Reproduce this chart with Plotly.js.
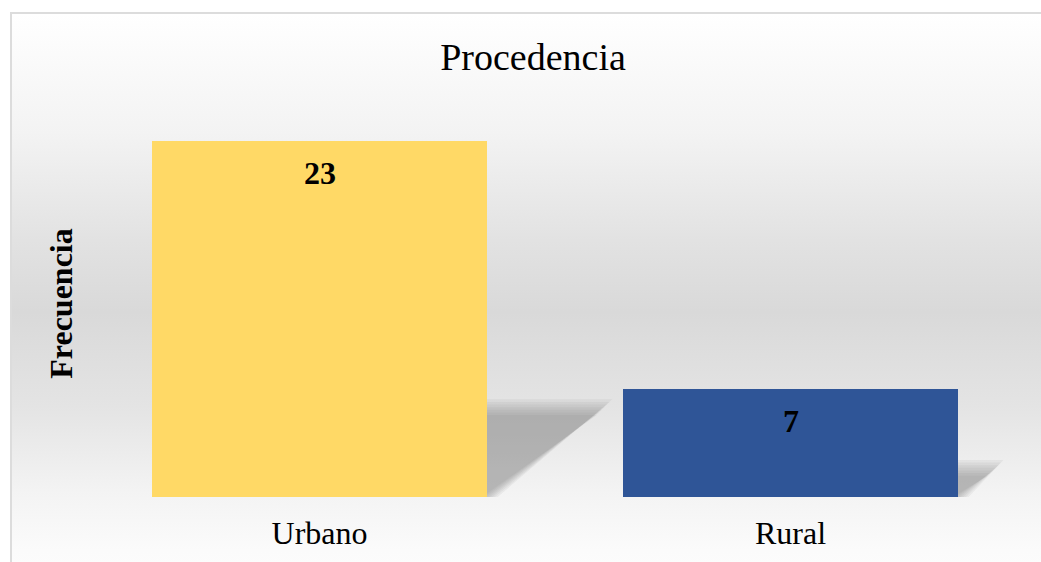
<!DOCTYPE html>
<html>
<head>
<meta charset="utf-8">
<script src="https://cdn.plot.ly/plotly-3.0.1.min.js"></script>
<style>
  html, body { margin: 0; padding: 0; width: 1041px; height: 562px; overflow: hidden; background: #ffffff; }
  #bg {
    position: absolute; left: 10px; top: 12px; width: 1100px; height: 600px;
    border: 2px solid #dcdcdc; box-sizing: border-box;
    background: linear-gradient(to bottom, #ffffff 0%, #f3f3f3 20%, #e2e2e2 38%, #d9d9d9 50%, #e4e4e4 66%, #f3f3f3 80%, #fbfbfb 90%, #ffffff 100%);
  }
  #chart { position: absolute; left: 0; top: 0; width: 1041px; height: 562px; }
</style>
</head>
<body>
<div id="bg"></div>
<div id="chart"></div>
<script>
const categories = ["Urbano", "Rural"];
const frequencies = [23, 7];
const barColors = ["#FFD966", "#2F5597"];
const chartTitle = "Procedencia";
const yTitle = "Frecuencia";

const idx = categories.map((c, i) => i);
const halfW = 0.356;

// soft perspective shadows derived from each bar's value (stacked translucent layers)
const shapes = [];
const layers = 7;
frequencies.forEach((v, i) => {
  const dx = 0.0106 * v, dy = 0.245 * v;
  for (let j = layers - 1; j >= 0; j--) {
    const ex = 0.0055 * (j - 2), ey = 0.17 * (j - 2);
    const x0 = i - halfW, x1 = i + halfW + ex;
    const top = Math.max(dy + ey, 0.05);
    shapes.push({
      type: "path", xref: "x", yref: "y", layer: "below",
      path: `M ${x0} 0 L ${x1} 0 L ${x1 + dx} ${top} L ${x0 - ex + dx} ${top} Z`,
      fillcolor: "rgba(120,120,120,0.085)", line: { width: 0 }
    });
  }
});

const annotations = frequencies.map((v, i) => ({
  x: i, y: v, xref: "x", yref: "y", text: "<b>" + v + "</b>",
  showarrow: false, yanchor: "middle", yshift: -32,
  font: { family: "Liberation Serif, Times New Roman, serif", size: 32, color: "#000000" }
}));

const trace = {
  type: "bar", x: idx, y: frequencies, width: 2 * halfW,
  marker: { color: barColors, line: { width: 0 } },
  hoverinfo: "skip"
};

const layout = {
  width: 1041, height: 562,
  paper_bgcolor: "rgba(0,0,0,0)", plot_bgcolor: "rgba(0,0,0,0)",
  margin: { l: 84, r: 15, t: 110, b: 65 },
  title: {
    text: chartTitle, x: 0.512, xanchor: "center", y: 1 - 57 / 562, yanchor: "middle", yref: "container",
    font: { family: "Liberation Serif, Times New Roman, serif", size: 38, color: "#000000" }
  },
  xaxis: {
    range: [-0.5, 1.5], tickvals: idx, ticktext: categories, showgrid: false, zeroline: false,
    showline: false, ticks: "", ticklabelstandoff: 14,
    tickfont: { family: "Liberation Serif, Times New Roman, serif", size: 32, color: "#000000" }
  },
  yaxis: {
    range: [0, 25], showgrid: false, zeroline: false, showline: false, showticklabels: false, ticks: "",
    title: { text: "<b>" + yTitle + "</b>", standoff: 0,
      font: { family: "Liberation Serif, Times New Roman, serif", size: 32, color: "#000000" } }
  },
  shapes: shapes,
  annotations: annotations,
  showlegend: false,
  bargap: 0
};

Plotly.newPlot("chart", [trace], layout, { displayModeBar: false, staticPlot: true });
</script>
</body>
</html>
